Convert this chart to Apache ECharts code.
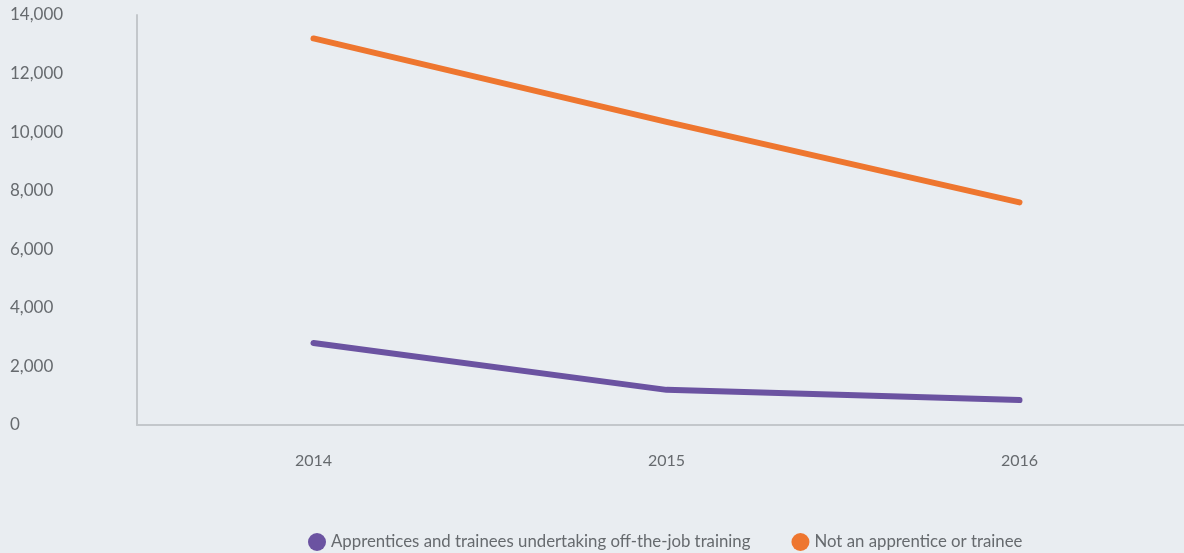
<!DOCTYPE html>
<html>
<head>
<meta charset="utf-8">
<script src="https://cdn.jsdelivr.net/npm/echarts@6/dist/echarts.min.js"></script>
<style>
  html, body { margin: 0; padding: 0; background: #e9edf1; }
  #chart { width: 1184px; height: 553px; }
</style>
</head>
<body>
<div id="chart"></div>
<script>
// Years on the x axis
const years = ['2014', '2015', '2016'];
// Series values
const apprentices = [2800, 1200, 850];
const notApprentice = [13200, 10350, 7600];
// Series names
const seriesNames = ['Apprentices and trainees undertaking off-the-job training', 'Not an apprentice or trainee'];

const FONT = 'Lato';
const TEXT = '#666a6e';
const colors = ['#6b53a1', '#ee762f'];

const chart = echarts.init(document.getElementById('chart'), null, { renderer: 'canvas' });
chart.setOption({
  backgroundColor: '#e9edf1',
  animation: false,
  color: colors,
  // plot area runs slightly past the right edge of the canvas
  grid: { left: 137, width: 1059, top: 15, bottom: 128, outerBoundsMode: 'none', containLabel: false },
  legend: {
    bottom: 2,
    left: 308,
    padding: 0,
    itemWidth: 18,
    itemHeight: 18,
    itemGap: 41,
    icon: 'circle',
    textStyle: { fontFamily: FONT, fontSize: 16.8, color: TEXT },
    data: seriesNames
  },
  xAxis: {
    type: 'category',
    data: years,
    boundaryGap: true,
    axisLine: { lineStyle: { color: '#c3c7cb', width: 2 } },
    axisTick: { show: false },
    axisLabel: { fontFamily: FONT, fontSize: 16, color: TEXT, margin: 28 }
  },
  yAxis: {
    type: 'value',
    min: 0,
    max: 14000,
    interval: 2000,
    splitLine: { show: false },
    axisLine: { show: true, lineStyle: { color: '#c3c7cb', width: 2 } },
    axisTick: { show: false },
    axisLabel: {
      fontFamily: FONT, fontSize: 17, color: TEXT,
      align: 'left', margin: 127,
      formatter: v => v.toLocaleString('en-US')
    }
  },
  series: [
    {
      name: seriesNames[0], type: 'line', data: apprentices,
      symbol: 'none', lineStyle: { width: 6, cap: 'round', join: 'round' }
    },
    {
      name: seriesNames[1], type: 'line', data: notApprentice,
      symbol: 'none', lineStyle: { width: 6, cap: 'round', join: 'round' }
    }
  ]
});
</script>
</body>
</html>
